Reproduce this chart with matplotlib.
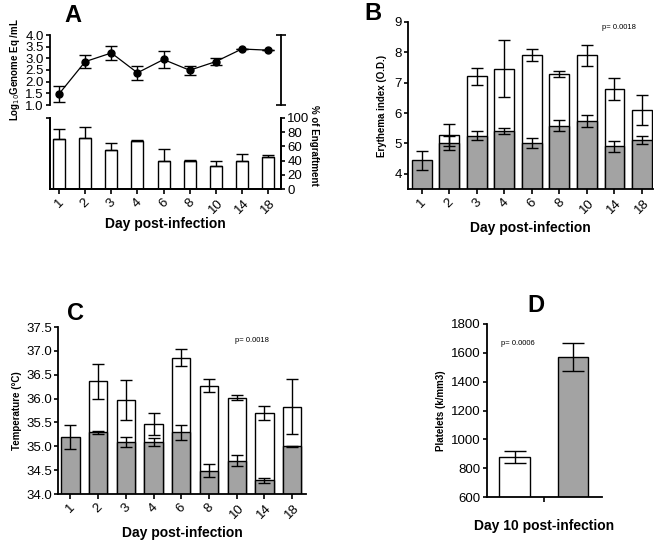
import numpy as np
import matplotlib
matplotlib.use('Agg')
import matplotlib.pyplot as plt

plt.rcParams['font.family'] = ['Liberation Sans', 'DejaVu Sans']
plt.rcParams['axes.linewidth'] = 1.3
plt.rcParams['xtick.major.width'] = 1.2
plt.rcParams['ytick.major.width'] = 1.2
plt.rcParams['xtick.major.size'] = 3.5
plt.rcParams['ytick.major.size'] = 3
plt.rcParams['xtick.major.pad'] = 2
plt.rcParams['ytick.major.pad'] = 1.5
plt.rcParams['xtick.labelsize'] = 9.5
plt.rcParams['ytick.labelsize'] = 9.5

days = ['1', '2', '3', '4', '6', '8', '10', '14', '18']

# panel A
genome = [1.48, 2.86, 3.23, 2.38, 2.95, 2.49, 2.86, 3.40, 3.35]
genome_err = [0.35, 0.29, 0.3, 0.3, 0.35, 0.2, 0.15, 0.0, 0.0]
engraft = [71, 72, 55, 68, 40, 40, 32, 40, 45]
engraft_err = [13, 16, 10, 1, 16, 1, 7, 9, 3]

# panel B
ery_gray = [4.44, 5.01, 5.25, 5.40, 5.01, 5.59, 5.74, 4.90, 5.10]
ery_gray_err = [0.3, 0.24, 0.15, 0.1, 0.17, 0.19, 0.21, 0.17, 0.13]
ery_white = [np.nan, 5.27, 7.21, 7.46, 7.92, 7.30, 7.90, 6.79, 6.10]
ery_white_err = [0, 0.37, 0.29, 0.94, 0.2, 0.1, 0.35, 0.35, 0.5]

# panel C
temp_gray = [35.19, 35.29, 35.09, 35.09, 35.29, 34.49, 34.70, 34.29, 35.00]
temp_gray_err = [0.25, 0.03, 0.1, 0.08, 0.15, 0.13, 0.12, 0.05, 0.01]
temp_white = [np.nan, 36.36, 35.97, 35.47, 36.86, 36.27, 36.02, 35.70, 35.83]
temp_white_err = [0, 0.36, 0.41, 0.23, 0.18, 0.13, 0.06, 0.15, 0.58]

# panel D
platelets = [879, 1570]
platelets_err = [40, 98]

GRAY = '#a3a3a3'
W, H = 661, 545


def box(l, r, t, b):
    return [l / W, 1 - b / H, (r - l) / W, (b - t) / H]


def clean(ax):
    ax.spines['top'].set_visible(False)
    ax.spines['right'].set_visible(False)


fig = plt.figure(figsize=(6.61, 5.45), dpi=100)
x = np.arange(len(days))

# ---- A top
axa = fig.add_axes(box(50, 281, 35, 105))
axa.errorbar(x, genome, yerr=genome_err, fmt='o-', color='black', ms=5,
             lw=0.9, capsize=4, elinewidth=1, capthick=1)
axa.set_xlim(-0.35, 8.5)
axa.set_ylim(1.0, 4.0)
axa.set_yticks(np.arange(1.0, 4.01, 0.5))
axa.set_yticklabels([f'{v:.1f}' for v in np.arange(1.0, 4.01, 0.5)])
axa.set_xticks([])
for s in ['top', 'right', 'bottom']:
    axa.spines[s].set_visible(False)
axa.set_ylabel('Log$_{10}$Genome Eq /mL', fontsize=7, fontweight='bold', labelpad=2)
axa_r = axa.twinx()
axa_r.set_ylim(1.0, 4.0)
axa_r.set_yticks([1.0, 4.0])
axa_r.set_yticklabels([])
axa_r.tick_params(axis='y', direction='inout', length=7)
for s in ['top', 'left', 'bottom']:
    axa_r.spines[s].set_visible(False)

# ---- A bottom
axb = fig.add_axes(box(50, 281, 118, 189))
axb.bar(x, engraft, width=0.46, color='white', edgecolor='black', lw=1)
axb.errorbar(x, engraft, yerr=[np.zeros(len(days)), engraft_err], fmt='none',
             ecolor='black', capsize=4, elinewidth=1, capthick=1)
axb.set_xlim(-0.35, 8.5)
axb.set_ylim(0, 100)
axb.set_yticks([100])
axb.set_yticklabels([])
axb.spines['top'].set_visible(False)
axb.set_xticks(x)
axb.set_xticklabels(days, rotation=45, ha='center')
axb.set_xlabel('Day post-infection', fontsize=10, fontweight='bold', labelpad=1)
axb_r = axb.twinx()
axb_r.set_ylim(0, 100)
axb_r.set_yticks(np.arange(0, 101, 20))
axb_r.spines['top'].set_visible(False)
fig.text(314 / W, 1 - 145 / H, '% of Engraftment', fontsize=7, fontweight='bold',
         rotation=270, ha='center', va='center')
fig.text(73 / W, 1 - 15 / H, 'A', fontsize=17, fontweight='bold', ha='center', va='center')


def stacked(ax, white, white_err, gray, gray_err, width):
    ax.bar(x, white, width=width, color='white', edgecolor='black', lw=1)
    ax.errorbar(x, white, yerr=white_err, fmt='none', ecolor='black',
                capsize=4, elinewidth=1, capthick=1)
    ax.bar(x, gray, width=width, color=GRAY, edgecolor='black', lw=1)
    ax.errorbar(x, gray, yerr=gray_err, fmt='none', ecolor='black',
                capsize=4, elinewidth=1, capthick=1)
    ax.set_xticks(x)
    ax.set_xticklabels(days, rotation=45, ha='center')
    ax.set_xlabel('Day post-infection', fontsize=10, fontweight='bold', labelpad=4)
    clean(ax)


# ---- B
axB = fig.add_axes(box(408, 653, 22, 189))
stacked(axB, ery_white, ery_white_err, ery_gray, ery_gray_err, 0.72)
axB.set_xlim(-0.5, 8.4)
axB.set_ylim(3.5, 9)
axB.set_yticks(range(4, 10))
axB.set_ylabel('Erythema index (O.D.)', fontsize=7, fontweight='bold', labelpad=5)
axB.text(0.93, 0.97, 'p= 0.0018', transform=axB.transAxes, fontsize=5.5,
         ha='right', va='center')
fig.text(373 / W, 1 - 13 / H, 'B', fontsize=17, fontweight='bold', ha='center', va='center')

# ---- C
axC = fig.add_axes(box(58, 306, 327, 494))
stacked(axC, temp_white, temp_white_err, temp_gray, temp_gray_err, 0.66)
axC.set_xlim(-0.45, 8.5)
axC.set_ylim(34.0, 37.5)
axC.set_yticks(np.arange(34.0, 37.51, 0.5))
axC.set_yticklabels([f'{v:.1f}' for v in np.arange(34.0, 37.51, 0.5)])
axC.set_ylabel('Temperature (\u00b0C)', fontsize=7, fontweight='bold', labelpad=3)
axC.text(0.85, 0.92, 'p= 0.0018', transform=axC.transAxes, fontsize=5.5,
         ha='right', va='center')
fig.text(75 / W, 1 - 313 / H, 'C', fontsize=17, fontweight='bold', ha='center', va='center')

# ---- D
axD = fig.add_axes(box(487, 602, 324, 497))
xd = np.arange(len(platelets))
axD.bar(xd, platelets, width=0.53, color=['white', GRAY], edgecolor='black', lw=1)
axD.errorbar(xd, platelets, yerr=platelets_err, fmt='none', ecolor='black',
             capsize=8, elinewidth=1, capthick=1)
axD.set_xlim(-0.48, 1.5)
axD.set_ylim(600, 1800)
axD.set_yticks(range(600, 1801, 200))
axD.set_xticks([0.5])
axD.set_xticklabels([''])
clean(axD)
axD.set_ylabel('Platelets (k/mm3)', fontsize=7, fontweight='bold', labelpad=4)
axD.set_xlabel('Day 10 post-infection', fontsize=10, fontweight='bold', labelpad=10)
axD.text(0.27, 0.885, 'p= 0.0006', transform=axD.transAxes, fontsize=5.5,
         ha='center', va='center')
fig.text(536 / W, 1 - 305 / H, 'D', fontsize=17, fontweight='bold', ha='center', va='center')

fig.savefig('out.png', dpi=100)
